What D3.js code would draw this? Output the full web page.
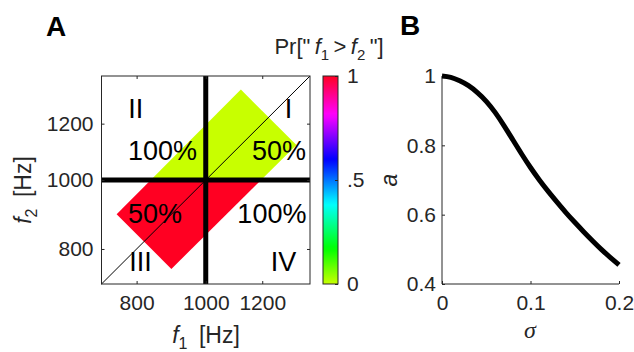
<!DOCTYPE html>
<html lang="en">
  <head>
    <meta charset="UTF-8" />
    <title>Pr f1 > f2</title>
    <script src="https://cdn.jsdelivr.net/npm/d3@7"></script>
    <style>
      body {
        margin: 0;
        padding: 0;
        background: #fff;
      }
      text {
        font-family: 'Liberation Sans', Arial, sans-serif;
        fill: #262626;
      }
    </style>
  </head>

  <body>
    <svg width="634" height="352"></svg>

    <script>
      // panel A: frequency plane (log axes)
      var fDomain = [1000 / 1.4, 1400]
      var fTicks = [800, 1000, 1200]
      var fBoundary = 1000
      // corners of the tilted stimulus region, f1 / f2 in Hz
      var regionF1 = [750, 1120, 1340, 895]
      var regionF2 = [895, 1340, 1120, 750]
      // colour value (Pr) above / below the f2 boundary
      var regionPr = [0, 1]
      // quadrant annotations
      var noteText = ['II', 'I', '100%', '50%', '50%', '100%', 'III', 'IV']
      var noteF1 = [798, 1306, 870, 1267, 849, 1238, 810, 1285]
      var noteF2 = [1224, 1224, 1066, 1066, 871, 871, 744, 744]
      // colorbar
      var cbTicks = [0, 0.5, 1]
      var cbLabels = ['0', '.5', '1']

      // panel B: a vs sigma
      var sigma = [0, 0.01, 0.02, 0.03, 0.04, 0.05, 0.06, 0.07, 0.08, 0.09, 0.1,
        0.11, 0.12, 0.13, 0.14, 0.15, 0.16, 0.17, 0.18, 0.19, 0.2]
      var aVals = [1.0, 0.996, 0.986, 0.972, 0.952, 0.927, 0.895, 0.857, 0.816, 0.775, 0.736,
        0.700, 0.667, 0.636, 0.606, 0.578, 0.551, 0.525, 0.5, 0.477, 0.455]
      var sigmaTicks = [0, 0.1, 0.2]
      var aTicks = [0.4, 0.6, 0.8, 1]

      var svg = d3.select('svg')
      var axisColor = '#262626'

      // hsv-like colormap, yellow-green (0) -> red (1)
      var hue = d3.scaleLinear().domain([0, 1]).range([73, 352])
      var cmap = (t) => d3.hsl(hue(t), 1, 0.5).formatHex()

      // ---------------- panel A ----------------
      var A = { left: 101.5, right: 310, top: 76, bottom: 284 }
      var x = d3.scaleLog().domain(fDomain).range([A.left, A.right])
      var y = d3.scaleLog().domain(fDomain).range([A.bottom, A.top])

      var defs = svg.append('defs')
      defs.append('clipPath').attr('id', 'clipUp')
        .append('rect')
        .attr('x', A.left).attr('y', A.top)
        .attr('width', A.right - A.left).attr('height', y(fBoundary) - A.top)
      defs.append('clipPath').attr('id', 'clipDown')
        .append('rect')
        .attr('x', A.left).attr('y', y(fBoundary))
        .attr('width', A.right - A.left).attr('height', A.bottom - y(fBoundary))

      var region = d3.range(regionF1.length).map((i) => [regionF1[i], regionF2[i]])
      var regionLine = d3.line()
        .x((d) => x(d[0]))
        .y((d) => y(d[1]))
        .curve(d3.curveLinearClosed)

      svg.selectAll('.region')
        .data(regionPr)
        .enter()
        .append('path')
        .attr('class', 'region')
        .attr('d', regionLine(region))
        .attr('fill', (d) => cmap(d))
        .attr('clip-path', (d, i) => (i === 0 ? 'url(#clipUp)' : 'url(#clipDown)'))

      // diagonal f1 = f2
      svg.append('line')
        .attr('x1', x(fDomain[0])).attr('y1', y(fDomain[0]))
        .attr('x2', x(fDomain[1])).attr('y2', y(fDomain[1]))
        .attr('stroke', '#000').attr('stroke-width', 1)

      // thick boundary lines
      svg.append('line')
        .attr('x1', x(fBoundary)).attr('x2', x(fBoundary))
        .attr('y1', A.top).attr('y2', A.bottom)
        .attr('stroke', '#000').attr('stroke-width', 5)
      svg.append('line')
        .attr('x1', A.left).attr('x2', A.right)
        .attr('y1', y(fBoundary)).attr('y2', y(fBoundary))
        .attr('stroke', '#000').attr('stroke-width', 5)

      function styleAxis(g) {
        g.select('.domain').remove()
        g.selectAll('line').attr('stroke', axisColor)
        g.selectAll('text')
          .attr('fill', axisColor)
          .style('font-size', '21px')
          .style('font-family', "'Liberation Sans', Arial, sans-serif")
      }

      svg.append('g')
        .attr('transform', `translate(0, ${A.bottom})`)
        .call(d3.axisBottom(x).tickValues(fTicks).tickFormat(d3.format('d'))
          .tickSizeInner(-3).tickSizeOuter(0).tickPadding(11))
        .call(styleAxis)
      svg.append('g')
        .attr('transform', `translate(0, ${A.top})`)
        .call(d3.axisTop(x).tickValues(fTicks).tickFormat('')
          .tickSizeInner(-3).tickSizeOuter(0))
        .call(styleAxis)
      svg.append('g')
        .attr('transform', `translate(${A.left}, 0)`)
        .call(d3.axisLeft(y).tickValues(fTicks).tickFormat(d3.format('d'))
          .tickSizeInner(-3).tickSizeOuter(0).tickPadding(8))
        .call(styleAxis)
      svg.append('g')
        .attr('transform', `translate(${A.right}, 0)`)
        .call(d3.axisRight(y).tickValues(fTicks).tickFormat('')
          .tickSizeInner(-3).tickSizeOuter(0))
        .call(styleAxis)

      svg.append('rect')
        .attr('x', A.left).attr('y', A.top)
        .attr('width', A.right - A.left).attr('height', A.bottom - A.top)
        .attr('fill', 'none').attr('stroke', axisColor).attr('stroke-width', 1)

      svg.selectAll('.note')
        .data(noteText)
        .enter()
        .append('text')
        .attr('class', 'note')
        .attr('x', (d, i) => x(noteF1[i]))
        .attr('y', (d, i) => y(noteF2[i]))
        .attr('text-anchor', 'middle')
        .style('font-size', '27px')
        .style('fill', '#000')
        .text((d) => d)

      // axis labels
      var xl = svg.append('text')
        .attr('x', 206).attr('y', 343)
        .attr('text-anchor', 'middle')
        .style('font-size', '23px')
      xl.append('tspan').style('font-style', 'italic').text('f')
      xl.append('tspan').attr('dy', 6).style('font-size', '16px').text('1')
      xl.append('tspan').attr('dy', -6).text('\u2002[Hz]')

      var yl = svg.append('text')
        .attr('transform', 'translate(31, 190) rotate(-90)')
        .attr('text-anchor', 'middle')
        .style('font-size', '23px')
      yl.append('tspan').style('font-style', 'italic').text('f')
      yl.append('tspan').attr('dy', 6).style('font-size', '16px').text('2')
      yl.append('tspan').attr('dy', -6).text('\u2002[Hz]')

      svg.append('text')
        .attr('x', 46).attr('y', 36)
        .style('font-size', '28px').style('font-weight', 'bold').style('fill', '#000')
        .text('A')

      // ---------------- colorbar ----------------
      var CB = { left: 323, right: 338, top: 76, bottom: 284 }
      var cbScale = d3.scaleLinear().domain([0, 1]).range([CB.bottom, CB.top])

      var grad = defs.append('linearGradient')
        .attr('id', 'cbGrad')
        .attr('x1', 0).attr('y1', 1).attr('x2', 0).attr('y2', 0)
      grad.selectAll('stop')
        .data(d3.range(0, 1.0001, 0.02))
        .enter()
        .append('stop')
        .attr('offset', (d) => d)
        .attr('stop-color', (d) => cmap(d))

      svg.append('rect')
        .attr('x', CB.left).attr('y', CB.top)
        .attr('width', CB.right - CB.left).attr('height', CB.bottom - CB.top)
        .attr('fill', 'url(#cbGrad)')
        .attr('stroke', axisColor).attr('stroke-width', 1)

      svg.append('g')
        .attr('transform', `translate(${CB.right}, 0)`)
        .call(d3.axisRight(cbScale).tickValues(cbTicks)
          .tickFormat((d, i) => cbLabels[i])
          .tickSizeInner(-3).tickSizeOuter(0).tickPadding(9))
        .call(styleAxis)

      var ct = svg.append('text')
        .attr('x', 329).attr('y', 54)
        .attr('text-anchor', 'middle')
        .style('font-size', '22px')
      ct.append('tspan').text('Pr["\u2009')
      ct.append('tspan').style('font-style', 'italic').text('f')
      ct.append('tspan').attr('dy', 6).style('font-size', '15px').text('1')
      ct.append('tspan').attr('dy', -6).text('\u2009>\u2009')
      ct.append('tspan').style('font-style', 'italic').text('f')
      ct.append('tspan').attr('dy', 6).style('font-size', '15px').text('2')
      ct.append('tspan').attr('dy', -6).text('\u2009"]')

      // ---------------- panel B ----------------
      var B = { left: 442, right: 619, top: 76, bottom: 284 }
      var xs = d3.scaleLinear().domain([0, 0.2]).range([B.left, B.right])
      var ys = d3.scaleLinear().domain([0.4, 1]).range([B.bottom, B.top])

      svg.append('g')
        .attr('transform', `translate(0, ${B.bottom})`)
        .call(d3.axisBottom(xs).tickValues(sigmaTicks)
          .tickFormat((d) => String(+d.toFixed(1)))
          .tickSizeInner(-3).tickSizeOuter(0).tickPadding(11))
        .call(styleAxis)
      svg.append('g')
        .attr('transform', `translate(${B.left}, 0)`)
        .call(d3.axisLeft(ys).tickValues(aTicks)
          .tickFormat((d) => String(+d.toFixed(1)))
          .tickSizeInner(-3).tickSizeOuter(0).tickPadding(6))
        .call(styleAxis)

      svg.append('line')
        .attr('x1', B.left).attr('x2', B.right)
        .attr('y1', B.bottom).attr('y2', B.bottom)
        .attr('stroke', axisColor)
      svg.append('line')
        .attr('x1', B.left).attr('x2', B.left)
        .attr('y1', B.top).attr('y2', B.bottom)
        .attr('stroke', axisColor)

      var curve = d3.line()
        .x((d, i) => xs(sigma[i]))
        .y((d) => ys(d))
        .curve(d3.curveNatural)

      svg.append('path')
        .datum(aVals)
        .attr('d', curve)
        .attr('fill', 'none')
        .attr('stroke', '#000')
        .attr('stroke-width', 5)

      svg.append('text')
        .attr('transform', 'translate(397, 180) rotate(-90)')
        .attr('text-anchor', 'middle')
        .style('font-size', '23px').style('font-style', 'italic')
        .text('a')

      svg.append('text')
        .attr('x', 530).attr('y', 338)
        .attr('text-anchor', 'middle')
        .style('font-size', '24px').style('font-style', 'italic')
        .style('font-family', "'Liberation Serif', serif")
        .text('\u03c3')

      svg.append('text')
        .attr('x', 400).attr('y', 35)
        .style('font-size', '28px').style('font-weight', 'bold').style('fill', '#000')
        .text('B')
    </script>
  </body>
</html>
